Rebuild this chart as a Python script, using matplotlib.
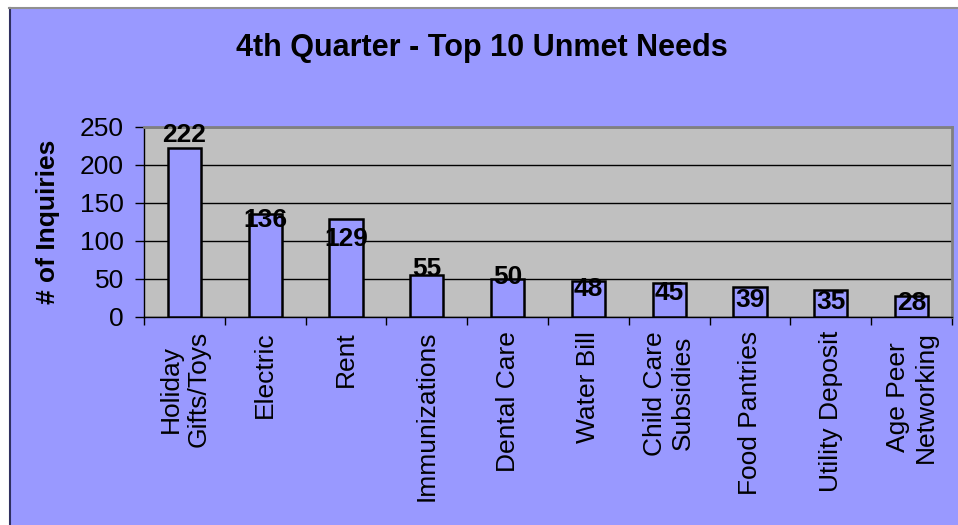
import matplotlib.pyplot as plt
from matplotlib.patches import Rectangle
from matplotlib.lines import Line2D
import numpy as np

plt.rcParams['font.family'] = ['Liberation Sans', 'DejaVu Sans']

# Dati del grafico
categories = ['Holiday\nGifts/Toys', 'Electric', 'Rent', 'Immunizations', 'Dental Care',
              'Water Bill', 'Child Care\nSubsidies', 'Food Pantries', 'Utility Deposit',
              'Age Peer\nNetworking']
inquiries = [222, 136, 129, 55, 50, 48, 45, 39, 35, 28]
# spostamento verticale delle etichette (unita' dati), come nel grafico originale
label_dy = [17, -8, -26, 8, 2, -11, -13, -17, -15, -10]

BG = '#9999FF'
W, H = 958, 525

fig = plt.figure(figsize=(W / 100, H / 100), dpi=100)
fig.patch.set_facecolor('white')

# Sfondo dell'area del grafico + bordi
fig.add_artist(Rectangle((10 / W, 0), 1 - 10 / W, 1 - 9 / H, transform=fig.transFigure,
                         facecolor=BG, edgecolor='none', zorder=0))
fig.add_artist(Line2D([9.5 / W, 9.5 / W], [0, 1 - 8 / H], transform=fig.transFigure,
                      color='#303060', lw=1.5))
fig.add_artist(Line2D([9 / W, 1], [1 - 8 / H, 1 - 8 / H], transform=fig.transFigure,
                      color='#909090', lw=1.5))

ax = fig.add_axes([144 / W, 1 - 317 / H, 808 / W, 190 / H])
ax.set_facecolor('#C0C0C0')

x = np.arange(len(categories))
ax.bar(x, inquiries, width=0.41, color=BG, edgecolor='black', linewidth=1.8, zorder=3)

for i, v in enumerate(inquiries):
    ax.text(i, v + label_dy[i], str(v), ha='center', va='center',
            fontsize=19, fontweight='bold', zorder=4)

ax.set_xlim(-0.5, len(categories) - 0.5)
ax.set_ylim(0, 250)
ax.set_yticks(range(0, 251, 50))
ax.yaxis.grid(True, color='black', linewidth=1, zorder=1)
ax.set_axisbelow(True)

ax.set_xticks(x)
ax.set_xticklabels(categories, rotation=90, fontsize=19, ha='center', va='top',
                   multialignment='center')
ax.tick_params(axis='x', which='major', length=0, pad=10)
ax.set_xticks(np.arange(-0.5, len(categories), 1), minor=True)
ax.tick_params(axis='x', which='minor', length=5.5, width=1, color='black', direction='out')
ax.tick_params(axis='y', length=6.5, width=1, labelsize=19, pad=8)

for s in ['top', 'right']:
    ax.spines[s].set_color('#808080')
    ax.spines[s].set_linewidth(2)
for s in ['left', 'bottom']:
    ax.spines[s].set_color('black')
    ax.spines[s].set_linewidth(1)

ax.set_ylabel('# of Inquiries', fontsize=19, fontweight='bold', labelpad=14)

fig.text(482 / W, 1 - 48 / H, '4th Quarter - Top 10 Unmet Needs', ha='center', va='center',
         fontsize=22, fontweight='bold')

fig.savefig('out.png', dpi=100, facecolor=fig.get_facecolor())
